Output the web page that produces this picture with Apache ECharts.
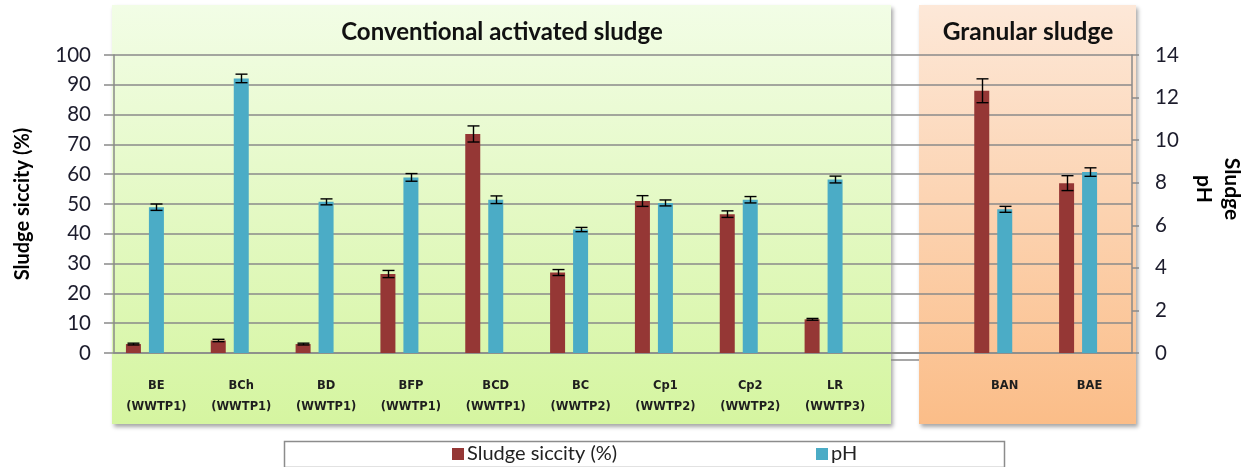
<!DOCTYPE html>
<html>
<head>
<meta charset="utf-8">
<title>Sludge siccity and pH</title>
<script src="https://cdn.jsdelivr.net/npm/echarts@6/dist/echarts.min.js"></script>
<style>
  html, body { margin: 0; padding: 0; background: #ffffff; }
  #chart { width: 1247px; height: 467px; }
</style>
</head>
<body>
<div id="chart"></div>
<script>
// Sampling points (an empty slot separates the two sludge families)
const categories = [
  'BE\n(WWTP1)', 'BCh\n(WWTP1)', 'BD\n(WWTP1)', 'BFP\n(WWTP1)', 'BCD\n(WWTP1)',
  'BC\n(WWTP2)', 'Cp1\n(WWTP2)', 'Cp2\n(WWTP2)', 'LR\n(WWTP3)', '', 'BAN', 'BAE'
];
// Sludge siccity (%) with standard deviation
const siccity    = [3.0, 4.2, 3.0, 26.5, 73.5, 27.0, 51.0, 46.6, 11.3, null, 88.0, 57.0];
const siccityErr = [0.3, 0.4, 0.3, 1.2, 2.7, 1.0, 1.8, 1.1, 0.3, null, 4.0, 2.5];
// Sludge pH with standard deviation
const ph    = [6.85, 12.9, 7.1, 8.25, 7.2, 5.8, 7.05, 7.2, 8.15, null, 6.75, 8.5];
const phErr = [0.15, 0.2, 0.14, 0.18, 0.18, 0.1, 0.14, 0.15, 0.16, null, 0.14, 0.2];
// Axis ticks
const leftTicks  = { min: 0, max: 100, interval: 10 };
const rightTicks = { min: 0, max: 14, interval: 2 };
const seriesNames = ['Sludge siccity (%)', 'pH'];

const RED = '#953735';
const BLUE = '#4bacc6';
const GRID = '#8a8a8a';
const BAR_W = 15;
const BAR_GAP = 8;          // px between neighbouring bars of a group
const FONT = 'Lato, "Open Sans", sans-serif';

const chart = echarts.init(document.getElementById('chart'), null, { renderer: 'canvas' });

// Error bars are drawn at the centre of the bar they belong to.
function errorBars(values, errs, slot, yAxisIndex) {
  const data = values.map((v, i) => (v == null ? [i, null, null] : [i, v, errs[i]]));
  return {
    type: 'custom',
    yAxisIndex: yAxisIndex,
    z: 5,
    silent: true,
    data: data,
    renderItem: function (params, api) {
      const v = api.value(1);
      if (v == null || isNaN(v)) return null;
      const e = api.value(2);
      const hi = api.coord([api.value(0), v + e]);
      const lo = api.coord([api.value(0), v - e]);
      const x = Math.round(hi[0] + slot * (BAR_W + BAR_GAP)) + 0.5;
      const half = 6;
      const style = { stroke: '#000', lineWidth: 1.4 };
      return {
        type: 'group',
        children: [
          { type: 'line', shape: { x1: x, y1: hi[1], x2: x, y2: lo[1] }, style: style },
          { type: 'line', shape: { x1: x - half, y1: hi[1], x2: x + half, y2: hi[1] }, style: style },
          { type: 'line', shape: { x1: x - half, y1: lo[1], x2: x + half, y2: lo[1] }, style: style }
        ]
      };
    }
  };
}

function panel(x, y, w, h, top, bottom) {
  return {
    type: 'rect',
    z: -10,
    silent: true,
    shape: { x: x, y: y, width: w, height: h },
    style: {
      fill: new echarts.graphic.LinearGradient(0, 0, 0, 1, [
        { offset: 0, color: top },
        { offset: 1, color: bottom }
      ]),
      shadowBlur: 4,
      shadowOffsetX: 2,
      shadowOffsetY: 3,
      shadowColor: 'rgba(0,0,0,0.35)'
    }
  };
}

function legendFor(name, left) {
  return {
    data: [name],
    left: left,
    top: 444,
    padding: 0,
    icon: 'rect',
    itemWidth: 12,
    itemHeight: 12,
    textStyle: { fontFamily: FONT, fontSize: 20, lineHeight: 20, color: '#222', padding: [0, 0, 0, -2] }
  };
}

const option = {
  animation: false,
  backgroundColor: '#ffffff',
  textStyle: { fontFamily: FONT },
  grid: { left: 114, right: 115, top: 55, bottom: 114, containLabel: false, outerBoundsMode: 'none' },
  graphic: [
    panel(112, 5, 779, 419, '#f2fde6', '#d5f5a0'),
    panel(919, 5, 217, 419, '#fde8d8', '#fbbd88'),
    {
      type: 'line', z: -5, silent: true,
      shape: { x1: 891, y1: 360, x2: 919, y2: 360 },
      style: { stroke: GRID, lineWidth: 1.5 }
    },
    {
      type: 'text', z: 10, silent: true,
      style: {
        x: 502, y: 32, text: 'Conventional activated sludge',
        font: 'bold 24px ' + FONT, fill: '#111', align: 'center', verticalAlign: 'middle'
      }
    },
    {
      type: 'text', z: 10, silent: true,
      style: {
        x: 1028, y: 32, text: 'Granular sludge',
        font: 'bold 24.5px ' + FONT, fill: '#111', align: 'center', verticalAlign: 'middle'
      }
    },
    {
      type: 'rect', z: -5, silent: true,
      shape: { x: 284.5, y: 441.5, width: 720, height: 26 },
      style: { fill: '#ffffff', stroke: '#8c8c8c', lineWidth: 1.5 }
    }
  ],
  legend: [legendFor(seriesNames[0], 452), legendFor(seriesNames[1], 816)],
  xAxis: {
    type: 'category',
    data: categories,
    axisLine: { show: true, lineStyle: { color: GRID, width: 1.5 } },
    axisTick: { show: false },
    axisLabel: {
      interval: 0,
      margin: 23,
      fontFamily: '"DejaVu Sans", sans-serif',
      fontWeight: 'bold',
      fontSize: 11.5,
      lineHeight: 21,
      color: '#1e1e1e'
    }
  },
  yAxis: [
    {
      type: 'value',
      min: leftTicks.min, max: leftTicks.max, interval: leftTicks.interval,
      name: 'Sludge siccity (%)',
      nameLocation: 'middle',
      nameGap: 81,
      nameTextStyle: { fontFamily: FONT, fontWeight: 'bold', fontSize: 20, color: '#000' },
      axisLine: { show: true, lineStyle: { color: GRID, width: 1.5 } },
      axisTick: { show: true, length: 10, lineStyle: { color: GRID, width: 1.5 } },
      axisLabel: { margin: 23, fontFamily: FONT, fontSize: 20.5, color: '#1c1c2c' },
      splitLine: { show: true, lineStyle: { color: GRID, width: 1.5 } }
    },
    {
      type: 'value',
      position: 'right',
      min: rightTicks.min, max: rightTicks.max, interval: rightTicks.interval,
      name: 'Sludge\npH',
      nameLocation: 'middle',
      nameRotate: -90,
      nameGap: 54,
      nameTextStyle: {
        fontFamily: FONT, fontWeight: 'bold', fontSize: 21, color: '#000',
        lineHeight: 28, padding: [0, 30, 0, 0]
      },
      axisLine: { show: true, lineStyle: { color: GRID, width: 1.5 } },
      axisTick: { show: true, length: 7, lineStyle: { color: GRID, width: 1.5 } },
      axisLabel: { margin: 23, fontFamily: FONT, fontSize: 20.5, color: '#1c1c2c' },
      splitLine: { show: false }
    }
  ],
  series: [
    {
      name: seriesNames[0],
      type: 'bar',
      yAxisIndex: 0,
      data: siccity,
      barWidth: BAR_W,
      barGap: (BAR_GAP / BAR_W * 100).toFixed(1) + '%',
      itemStyle: { color: RED }
    },
    {
      name: seriesNames[1],
      type: 'bar',
      yAxisIndex: 1,
      data: ph,
      barWidth: BAR_W,
      itemStyle: { color: BLUE }
    },
    {
      // empty third slot of each group, keeps the pairs left of the tick centre
      name: 'slot',
      type: 'bar',
      yAxisIndex: 0,
      data: categories.map(() => null),
      barWidth: BAR_W
    },
    errorBars(siccity, siccityErr, -1, 0),
    errorBars(ph, phErr, 0, 1)
  ]
};

chart.setOption(option);
</script>
</body>
</html>
